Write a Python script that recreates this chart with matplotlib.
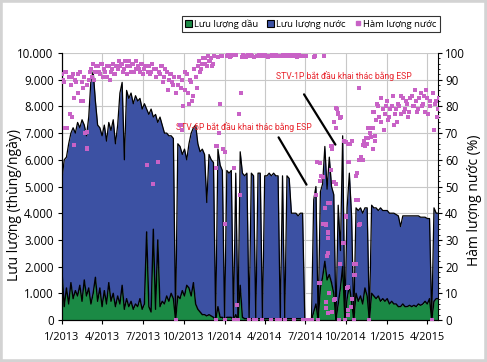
import matplotlib
matplotlib.use("Agg")
import matplotlib.pyplot as plt
import matplotlib.dates as mdates
import matplotlib.ticker as mticker
from matplotlib.patches import Patch, Rectangle
from matplotlib.lines import Line2D
import numpy as np
import pandas as pd

plt.rcParams['font.family'] = ['Open Sans', 'DejaVu Sans']

# samples every 5 days from 1/1/2013
start_date = '2013-01-01'
step_days = 5

# total liquid rate (top of the blue area), bbl/day
liquid = [5300, 6000, 6100, 6600, 7000, 7200, 7000, 7400, 7200, 7500,
          7300, 6900, 7600, 9000, 9300, 8200, 7300, 7200, 6900, 7300,
          6700, 7400, 7100, 7500, 6600, 7300, 8500, 8900, 6000, 8600,
          8300, 8500, 8100, 8400, 8200, 8300, 7900, 8100, 7900, 7700,
          7900, 7600, 7700, 7400, 7600, 7300, 7000, 7000, 6900, 6900,
          6800, 0, 6600, 6500, 6200, 6400, 6000, 6600, 7000, 7200,
          7300, 6600, 6300, 6400, 6200, 4400, 6200, 6000, 5900, 0,
          6400, 5800, 5600, 0, 5600, 5500, 5600, 0, 5500, 0,
          6300, 5500, 5400, 5500, 0, 5500, 5400, 0, 5500, 5500,
          0, 5400, 5400, 5500, 5400, 5500, 5400, 5400, 0, 5400,
          0, 5400, 5300, 4000, 4000, 4000, 3900, 4000, 4000, 0,
          0, 0, 0, 4500, 5000, 0, 4800, 5100, 6500, 4900,
          6100, 5000, 4700, 0, 4300, 2600, 6900, 0, 4200, 5500,
          3900, 0, 4200, 4100, 4200, 4000, 4200, 4200, 0, 4300,
          4200, 4200, 4100, 4200, 4100, 4100, 4100, 4000, 4000, 4000,
          3950, 3900, 3500, 3900, 3900, 3900, 3900, 3900, 3900, 3900,
          3900, 3850, 3850, 3850, 3800, 3800, 0, 4200, 4000, 4000]

# oil rate (top of the green area), bbl/day
oil = [1800, 500, 1200, 600, 1400, 800, 1100, 900, 1300, 700,
       1500, 900, 1200, 600, 1000, 1600, 700, 1200, 500, 1100,
       600, 1400, 700, 1000, 500, 900, 600, 1300, 400, 800,
       500, 700, 400, 600, 500, 800, 400, 600, 3300, 500,
       300, 3400, 400, 3000, 500, 700, 600, 900, 700, 1000,
       800, 0, 900, 800, 1100, 900, 1300, 1200, 900, 1400,
       600, 400, 300, 200, 200, 150, 200, 150, 100, 0,
       500, 100, 100, 0, 100, 100, 100, 0, 200, 0,
       1300, 100, 50, 50, 0, 50, 50, 0, 50, 50,
       0, 50, 50, 50, 50, 50, 50, 50, 0, 50,
       0, 50, 50, 50, 50, 50, 50, 50, 50, 0,
       0, 0, 0, 300, 600, 0, 1200, 1600, 2200, 1500,
       1700, 1400, 1000, 0, 600, 1200, 2000, 0, 800, 1300,
       700, 0, 1000, 700, 900, 600, 1200, 900, 0, 1000,
       900, 800, 900, 700, 800, 700, 800, 600, 700, 600,
       600, 500, 500, 600, 500, 500, 550, 500, 550, 500,
       600, 550, 600, 700, 600, 800, 0, 700, 800, 800]

# water cut (%), two readings per 5-day step
water_cut_a = [92, 89, 93, 91, 88, 92, 90, 85, 93, 89, 91, 88, 90,
               94, 96, 93, 95, 92, 96, 94, 91, 95, 93, 96, 92, 94, 95,
               96, 94, 95, 97, 93, 96, 94, 95, 93, 96, 94, 58, 95, 93,
               51, 94, 59, 92, 95, 91, 93, 90, 92, 88,
               0, 88, 73, 90, 86, 92, 81, 89, 84, 91, 95, 93, 96, 98,
               95, 97, 98, 96, 0,
               98.5, 81, 99, 0, 98.8, 99, 98.7, 0, 99.2, 0, 47, 98.5,
               99, 98.8, 0, 99.3, 98.6, 0, 99, 98.7, 0, 99.2, 98.8, 99,
               0, 98.7, 99.3, 0, 0, 98.8, 0, 99.1, 98.7, 99.2, 0, 98.9,
               99.3, 99, 98.7,
               0, 0, 0, 0, 98.5, 47, 0, 52, 36, 42, 24, 10, 65, 74, 51,
               77, 21, 29, 0,
               12, 59, 67, 0, 21, 45, 36, 60, 65, 66, 0,
               72, 78, 75, 80, 74, 79, 77, 82, 76, 80, 73, 79, 81, 77,
               83, 79, 81, 78, 84, 80, 82, 79, 85, 81, 78, 83, 80, 0,
               71, 82, 79]
water_cut_b = [90, 93, 72, 77, 91, 83, 89, 92, 82, 87, 70, 64, 93,
               91, 90, 95, 93, 96, 91, 93, 95, 90, 94, 92, 95, 97, 96,
               93, 97, 92, 95, 96, 93, 97, 94, 96, 92, 95, 93, 92, 96,
               94, 91, 93, 95, 89, 94, 86, 92, 89, 91,
               85, 91, 87, 80, 93, 85, 90, 82, 94, 87, 97, 94, 98, 96,
               99, 97, 95, 99, 65,
               70, 99, 64, 36, 99.2, 98.6, 99.3, 57, 5.6, 77, 85, 99.1,
               98.6, 99.4, 98.8, 99, 0, 98.7, 99.1, 99.3, 98.8, 99,
               98.5, 98.9, 99.2, 98.9, 0, 99, 98.7, 99.2, 98.9, 98.8,
               99.3, 98.8, 99.1, 98.6, 99.2, 98.8, 0,
               98.7, 0, 0, 0, 99, 59, 14, 54, 98.8, 36, 33, 44, 3, 8,
               79, 0, 76, 67, 39,
               2, 66, 8, 17, 55, 87, 61, 67, 68, 72, 70,
               78, 69, 81, 76, 83, 71, 80, 75, 79, 84, 77, 74, 80, 84,
               78, 82, 76, 83, 80, 86, 78, 83, 80, 84, 86, 77, 82, 85,
               81, 76, 83]

# extra scattered water-cut readings (day since 1/1/2013, %)
extra_wc_days = [7, 18, 22, 27, 47, 56, 56, 266, 270, 345, 346, 366,
                 580, 585, 603, 610, 598, 592, 596, 596, 596, 580, 592,
                 592, 596, 625, 632, 637, 643, 641, 643, 655, 655, 659,
                 666, 610, 648, 625, 643, 666, 671, 659, 637, 643, 675,
                 682, 686, 693, 697, 614, 610, 619, 614, 666, 603, 607,
                 698, 702]
extra_wc = [71.8, 77, 76, 65.5, 82, 64.5, 70.5, 73, 71, 65, 57, 63,
            58.8, 53.7, 56, 51.8, 43.8, 35.6, 32.6, 30.7, 25, 14, 6.7,
            4.4, 2.6, 21, 28.8, 38.6, 12.4, 3.7, 1.9, 21, 16.9, 45,
            35.6, 7.5, 4.9, 75.6, 59, 60, 60.7, 54, 66.7, 66, 65.5,
            66, 68, 68.5, 72, 72, 74, 77.5, 79.4, 87, 65, 64,
            64, 67]

quarter_ticks = ['2013-01-01', '2013-04-01', '2013-07-01', '2013-10-01',
                 '2014-01-01', '2014-04-01', '2014-07-01', '2014-10-01',
                 '2015-01-01', '2015-04-01']

green = '#1b8a45'
blue = '#3c51a3'
pink = '#c862c6'

dates = pd.date_range(start_date, periods=len(liquid), freq=f'{step_days}D')
dates_b = dates + pd.Timedelta(days=2)
extra_dates = pd.Timestamp(start_date) + pd.to_timedelta(extra_wc_days, unit='D')
liquid = np.array(liquid, dtype=float)
oil = np.array(oil, dtype=float)

fig = plt.figure(figsize=(4.87, 3.62), dpi=100)
fig.patches.append(Rectangle((0, 0), 1, 1, transform=fig.transFigure,
                             fill=False, edgecolor='#d3d3d3', linewidth=4))

ax = fig.add_axes([62 / 487, 42 / 362, 376 / 487, 267 / 362])
ax.set_axisbelow(True)
ax.fill_between(dates, oil, liquid, color=blue, linewidth=0)
ax.fill_between(dates, 0, oil, color=green, linewidth=0)
ax.plot(dates, liquid, color='black', linewidth=0.9)
ax.plot(dates, oil, color='black', linewidth=1.0)

ax.set_ylim(0, 10000)
ax.set_xlim(pd.Timestamp('2013-01-01'), pd.Timestamp('2015-04-25'))
ax.yaxis.set_major_locator(mticker.MultipleLocator(1000))
ax.yaxis.set_major_formatter(mticker.FuncFormatter(
    lambda v, p: f'{int(v):,}'.replace(',', '.')))
ax.set_xticks(pd.to_datetime(quarter_ticks))
ax.xaxis.set_major_formatter(mticker.FuncFormatter(
    lambda v, p: f'{mdates.num2date(v).month}/{mdates.num2date(v).year}'))
ax.grid(True, color='#c8c8c8', linewidth=0.8)
ax.tick_params(axis='both', labelsize=8.3, length=3, width=0.8)
ax.tick_params(axis='x', pad=6, labelsize=7.8)
ax.tick_params(axis='y', pad=3)
ax.spines['top'].set_visible(False)
ax.spines['right'].set_visible(False)
ax.set_ylabel('Lưu lượng (thùng/ngày)', fontsize=10)
ax.yaxis.set_label_coords(-0.106, 0.43)

ax2 = ax.twinx()
for d, wc in [(dates, water_cut_a), (dates_b, water_cut_b), (extra_dates, extra_wc)]:
    ax2.scatter(d, wc, marker='s', s=6, color=pink, linewidths=0, zorder=3)
ax2.set_ylim(0, 100)
ax2.yaxis.set_major_locator(mticker.MultipleLocator(10))
ax2.yaxis.set_minor_locator(mticker.MultipleLocator(2))
ax2.tick_params(axis='y', labelsize=8.3, length=3, width=0.8, pad=2)
ax2.tick_params(axis='y', which='minor', length=1.5, width=0.6)
ax2.spines['top'].set_visible(False)
ax2.set_ylabel('Hàm lượng nước (%)', fontsize=10)
ax2.yaxis.set_label_coords(1.077, 0.45)

red = '#e8232b'
note_font = ['Roboto', 'DejaVu Sans']
ax.annotate('STV-1P bắt đầu khai thác bằng ESP', xy=(pd.Timestamp('2014-04-27'), 9150),
            color=red, fontsize=6.2, va='center', ha='left', family=note_font)
ax.annotate('', xy=(pd.Timestamp('2014-09-10'), 6480),
            xytext=(pd.Timestamp('2014-06-25'), 8540),
            arrowprops=dict(arrowstyle='-', color='black', lw=1.6))
ax.annotate('STV-6P bắt đầu khai thác bằng ESP', xy=(pd.Timestamp('2013-09-14'), 7230),
            color=red, fontsize=6.2, va='center', ha='left', family=note_font)
ax.annotate('', xy=(pd.Timestamp('2014-07-07'), 4980),
            xytext=(pd.Timestamp('2014-04-29'), 6930),
            arrowprops=dict(arrowstyle='-', color='black', lw=1.6))

handles = [Patch(facecolor=green, edgecolor='black', linewidth=0.8),
           Patch(facecolor=blue, edgecolor='black', linewidth=0.8),
           Line2D([], [], marker='s', markersize=2.5, color=pink, linestyle='none')]
fig.legend(handles, ['Lưu lượng dầu', 'Lưu lượng nước', 'Hàm lượng nước'],
           loc='upper right', bbox_to_anchor=(440 / 487, 1 - 16 / 362), ncol=3,
           fontsize=6.8, frameon=True, fancybox=False, edgecolor='black',
           handlelength=0.7, handleheight=0.7, handletextpad=0.2, columnspacing=1.0,
           borderpad=0.35, borderaxespad=0)
fig.legends[0].get_frame().set_linewidth(0.8)

fig.savefig('out.png', dpi=100)
